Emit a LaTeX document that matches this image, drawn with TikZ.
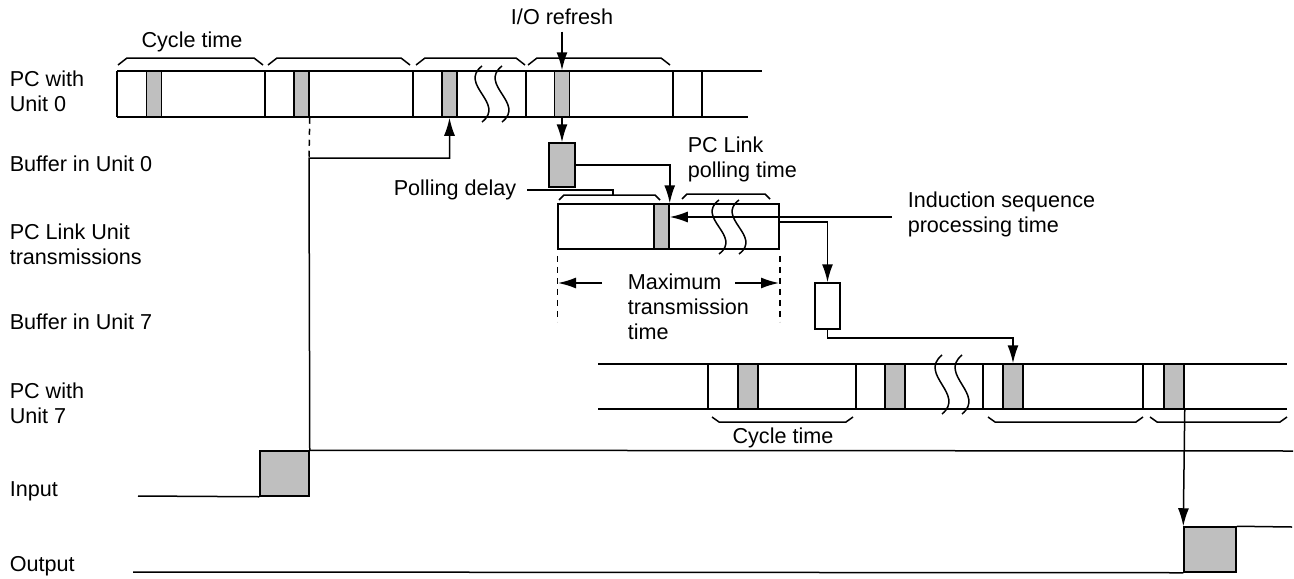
\documentclass[tikz,border=0pt]{standalone}
\usepackage{fontspec}
\setmainfont{Liberation Sans}
\usetikzlibrary{positioning,arrows.meta}

\tikzset{
  slot/.style={draw, fill=black!25, minimum width=7.5pt, minimum height=23pt},
  buf/.style={draw, minimum width=13pt, minimum height=22pt},
  lbl/.style={align=left, anchor=west},
  dashline/.style={dash pattern=on 3pt off 2.5pt}
}
% bracket: x0, x1, y of ends, slant dx, slant dy
\newcommand{\bkt}[5]{\draw (#1,#3) -- ++(#4,#5) -- ({#2-#4},{#3+(#5)}) -- (#2,#3);}
% break mark: x, top, bottom
\newcommand{\wavy}[3]{\draw (#1,#2) .. controls ({#1-24},{#2+(#3-#2)/3}) and ({#1+24},{#2+2*(#3-#2)/3}) .. (#1,#3);}

\begin{document}
\begin{tikzpicture}[x=0.5pt, y=-0.5pt, line width=0.75pt, >={Latex[length=9pt,width=5.5pt]},
  every node/.style={font=\fontsize{10.8}{12.5}\selectfont, inner sep=0pt}]
\useasboundingbox (0,0) rectangle (1294,578);

% row labels
\node[lbl] (lpc0) at (9,91) {PC with\\Unit 0};
\node[lbl] (lbuf0) at (9,164) {Buffer in Unit 0};
\node[lbl] (llink) at (9,244) {PC Link Unit\\transmissions};
\node[lbl] (lbuf7) at (9,322) {Buffer in Unit 7};
\node[lbl] (lpc7) at (9,403) {PC with\\Unit 7};
\node[lbl] (lin) at (9,491) {Input};
\node[lbl] (lout) at (9,566) {Output};

% PC with Unit 0
\draw (117,71) -- (762,71);
\draw (117,117) -- (748,117);
\foreach \x in {117,265,413,526,673,702}
  \draw (\x,71) -- (\x,117);
\foreach \x/\n in {154/a1,301.5/a2,449.5/a3,562/a4}
  \node[slot] (\n) at (\x,94) {};
\wavy{482}{66}{122}
\wavy{502}{66}{122}
\bkt{118}{263}{65}{9}{-7}
\bkt{268}{410}{65}{9}{-7}
\bkt{416}{525}{65}{9}{-7}
\bkt{528}{670}{65}{9}{-7}
\node (cyc0) at (192,42) {Cycle time};
\node (ioref) at (562,17) {I/O refresh};

% buffer in Unit 0
\node[buf, fill=black!25] (buf0) at (562,165) {};

% PC Link transmissions
\node[draw, minimum width=110.5pt, minimum height=22.5pt] (plbar) at (668.5,226.5) {};
\node[slot, minimum height=22.5pt] (c1) at (661.5,226.5) {};
\wavy{719}{200}{254}
\wavy{739}{200}{254}
\bkt{559}{660}{200}{5}{-5}
\bkt{682}{770}{199}{5}{-5}
\node[anchor=east] (poll) at (517,190) {Polling delay};
\node[lbl] (plt) at (687,159) {PC Link\\polling time};
\node[lbl] (ind) at (907,214) {Induction sequence\\processing time};
\node[lbl] (mtt) at (627,307) {Maximum\\transmission\\time};
\coordinate (pd) at (613,195);
\coordinate (indin) at (892,217);
\coordinate (cout) at (779,222);
\coordinate (mtl) at (558,283);
\coordinate (mtr) at (779,283);

% buffer in Unit 7
\node[buf, minimum width=12.5pt, minimum height=23pt] (buf7) at (827.5,306) {};

% PC with Unit 7
\draw (598,364) -- (1287,364);
\draw (598,409) -- (1287,409);
\foreach \x in {708,856,983,1143}
  \draw (\x,364) -- (\x,409);
\foreach \x/\n in {748/e1,895/e2,1013/e3,1174/e4}
  \node[slot, minimum width=10pt, minimum height=22.5pt] (\n) at (\x,386.5) {};
\wavy{942}{355}{414}
\wavy{962}{355}{414}
\bkt{712}{853}{417}{7}{5}
\bkt{988}{1143}{417}{7}{5}
\bkt{1150}{1287}{417}{7}{5}
\node (cyc7) at (783,438) {Cycle time};

% input and output
\node[slot, minimum width=24.5pt, minimum height=22.5pt] (inbox) at (284.5,473.5) {};
\draw (138,496) -- (inbox.south west);
\draw (inbox.north east) -- (1293,451);
\node[slot, minimum width=26pt, minimum height=22.5pt] (outbox) at (1210,549.5) {};
\draw (133,572) -- (outbox.south west);
\draw (outbox.north east) -- (1292,527);
\coordinate (inknee) at (309,158);

% connectors
\draw[->] ([yshift=-3pt]ioref.south) -- (a4.north);
\draw[->] (a4.south) -- (buf0.north);
\draw[->] (buf0.east) -| (c1.north east);
\draw[dashline] (a2.south east) -- (inknee);
\draw[->] (inbox.north east) -- (inknee) -| (a3.south);
\draw ([xshift=5pt]poll.east) -| (pd);
\draw[->] (indin) -- (indin -| c1.east);
\draw[->] (cout) -| (buf7.north);
\draw[->] (buf7.south) -- ++(0,8) -| (e3.north);
\draw[->] (e4.south east) -- (outbox.north west);
\draw[dashline] ([yshift=-3pt]plbar.south west) -- ++(0,66);
\draw[dashline] ([yshift=-3pt]plbar.south east) -- ++(0,66);
\draw[->] ([xshift=22pt]mtl) -- (mtl);
\draw[->] ([xshift=-22pt]mtr) -- (mtr);
\end{tikzpicture}
\end{document}
